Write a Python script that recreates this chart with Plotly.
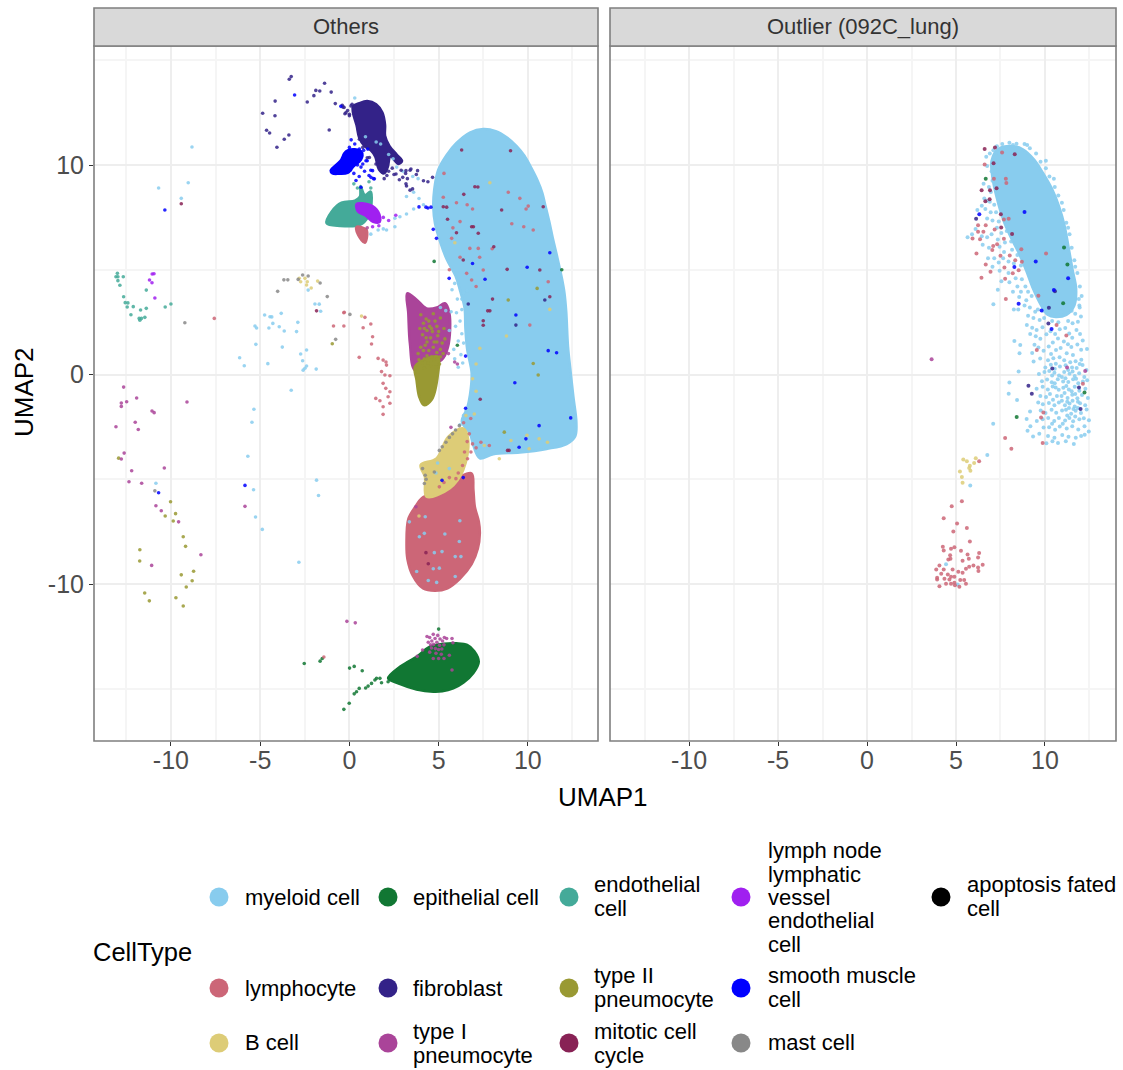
import plotly.graph_objects as go

W, H = 1123, 1070
COLORS = {
    "myeloid": "#88CCEE", "epithelial": "#117733", "endothelial": "#44AA99", "lymphatic": "#A020F0",
    "apoptosis": "#000000", "lymphocyte": "#CC6677", "fibroblast": "#332288", "type2": "#999933",
    "smooth": "#0000FF", "bcell": "#DDCC77", "type1": "#AA4499", "mitotic": "#882255", "mast": "#888888",
}

# ---------- left panel: dense regions (outlines, data units) ----------
REGION_MYELOID = [(7.5,11.72),(8.2,11.62),(8.85,11.3),(9.37,10.9),(9.8,10.45),(10.2,9.85),(10.55,9.25),(10.8,8.7),(11.0,8.0),(11.2,7.3),(11.4,6.5),(11.65,5.6),(11.89,4.67),
    (12.05,3.9),(12.15,3.0),(12.25,1.33),(12.4,0.1),(12.55,-1.06),(12.72,-2.3),(12.65,-2.95),(12.17,-3.32),(11.05,-3.55),(9.55,-3.72),(8.06,-3.8),
    (7.31,-4.0),(6.95,-3.4),(6.75,-2.81),(6.3,-2.25),(6.6,-1.6),(6.75,-1.0),(6.85,0.06),(6.6,1.2),(6.5,2.2),(6.45,3.2),(6.2,4.0),(5.95,4.7),(5.45,5.5),(5.1,6.3),(4.8,7.2),(4.7,8.01),(4.75,8.8),
    (4.97,9.75),(5.45,10.48),(6.0,11.05),(6.75,11.55)]
REGION_FIBROBLAST = [(0.55,12.95),(1.0,13.05),(1.5,12.9),(1.85,12.5),(2.0,11.9),(2.0,11.4),(2.25,10.9),(2.65,10.5),(2.95,10.2),(2.75,10.05),(2.3,10.4),(2.15,9.9),(1.95,9.6),
    (1.65,9.8),(1.45,10.4),(1.2,10.7),(0.85,10.9),(0.55,11.3),(0.4,11.9),(0.2,12.5),(0.2,12.8)]
REGION_SMOOTH = [(-1.05,9.73),(-0.5,10.2),(-0.2,10.65),(0.3,10.75),(0.7,10.6),(0.65,10.25),(0.25,9.95),(-0.1,9.62),(-0.6,9.58),(-0.95,9.6)]
REGION_ENDOTHELIAL = [(-1.28,7.22),(-1.0,7.77),(-0.44,8.2),(0.31,8.3),(0.59,8.49),(0.62,9.0),(0.87,8.57),(1.19,8.73),
    (1.24,8.17),(1.05,7.53),(0.59,7.14),(-0.53,7.09)]
REGION_LYMPHATIC = [(0.4,8.14),(1.15,8.09),(1.61,7.77),(1.71,7.29),(1.33,7.29),(0.87,7.61),(0.49,7.77)]
REGION_LYMPH_TAIL = [(0.4,7.05),(0.96,6.9),(0.87,6.29),(0.49,6.66)]
REGION_TYPE1 = [(3.24,3.88),(3.8,3.55),(4.32,3.16),(4.9,3.2),(5.35,3.4),(5.6,2.95),(5.53,1.33),(5.16,0.69),(4.4,0.45),(3.67,0.21),(3.39,1.49),(3.3,2.92)]
REGION_TYPE2 = [(3.67,0.37),(4.3,0.75),(4.97,0.85),(4.97,0.06),(4.6,-1.22),(4.17,-1.46),(3.91,-1.06),(3.76,-0.26)]
REGION_LYMPHOCYTE = [(6.85,-4.72),(6.95,-5.5),(7.03,-6.31),(7.25,-7.0),(7.31,-7.58),(7.2,-8.3),(6.85,-9.05),(6.19,-9.75),(5.5,-10.2),(4.8,-10.32),(4.13,-10.21),(3.55,-9.6),
    (3.25,-8.8),(3.2,-8.06),(3.3,-6.9),(3.7,-6.3),(4.04,-5.91),(5.26,-5.43),(6.19,-4.88)]
REGION_BCELL = [(6.38,-2.57),(6.66,-3.13),(6.38,-4.56),(5.63,-5.43),(4.32,-5.83),(4.23,-4.88),(3.99,-4.32),(4.88,-4.0),(5.53,-2.97)]
REGION_EPITHELIAL = [(2.17,-14.5),(2.83,-13.95),(3.3,-13.7),(3.76,-13.47),(4.51,-12.99),(5.3,-12.85),(6.0,-12.83),(6.6,-12.9),(7.0,-13.2),(7.25,-13.71),(6.95,-14.25),(6.4,-14.7),
    (5.82,-14.98),(5.2,-15.12),(4.7,-15.14),(3.76,-15.03),(2.73,-14.74)]

# ---------- left panel: single cells ----------
L_FIBROBLAST = [(-3.37,14.09),(-3.26,14.22),(-1.39,13.9),(-1.88,13.56),(-1.66,13.53),(-1.02,13.48),(-1.99,13.31),(-2.36,13.01),
    (-4.16,13.05),(-0.79,12.93),(-4.86,12.47),(-4.17,12.35),(-4.64,11.66),(-4.47,11.53),(-3.39,11.43),(-3.65,11.23),(-4.06,10.85),
    (-1.13,11.67),(-0.3,12.75),(-0.1,12.6),(0.0,12.35),(-0.25,12.45),(0.15,12.9),(-0.4,12.85),(0.0,12.42),(-0.19,12.5),(0.09,12.82),(-0.37,12.77),
    (2.9,9.75),(3.15,9.6),(3.4,9.75),(3.75,9.55),(4.15,9.25),(4.4,9.2),(2.5,9.55),(2.8,9.3),(3.2,9.0),(3.4,8.8),(2.2,9.7),(10.95,3.56),(6.66,3.37),(9.33,2.36),
    (1.0,10.35),(1.6,10.15),(0.9,11.1),(0.56,11.23),(0.75,10.84),(1.12,10.36),(1.49,10.05),(1.87,9.65),(2.61,9.57),(2.99,9.41),(3.17,9.73),(3.45,9.81),(3.17,9.1),(3.54,8.86),(4.66,9.41),(3.82,9.73),
    (3.25,9.35),(2.4,9.85),(2.1,9.5),(1.95,9.35)]
L_SMOOTH = [(-3.07,13.34),(-0.48,12.8),(-10.34,7.85),(-10.69,-5.64),(-5.85,-5.29),(9.96,5.12),(5.59,4.59),(11.23,5.81),(11.61,1.04),
    (11.14,1.14),(9.33,2.84),(4.7,6.93),(4.88,6.5),(6.51,0.88),(6.51,-1.61),(9.27,-0.39),(6.38,-4.92),(5.19,-5.05),(12.4,-2.07),
    (10.63,-2.44),(9.89,-3.07),(9.51,-3.47),(0.3,11.0),(0.8,10.7),(1.1,9.5),(1.35,9.35),(0.65,9.9),(1.0,10.2),(0.1,11.2),(3.9,8.0),(4.4,7.95),(1.2,9.75),(6.9,5.3),(7.6,4.55),
    (1.03,10.76),(0.56,10.76),(1.21,9.41),(1.3,9.73),(1.4,9.34),(0.93,10.2),(0.47,10.44),(0.28,10.6),(0.0,10.84),(0.75,10.05),(0.0,10.05),(-0.56,9.81),(-0.28,9.97),(0.37,9.26),(0.65,8.94),(4.29,7.99),(4.57,7.99),
    (0.45,10.0),(0.85,9.7),(0.55,9.45),(-0.3,10.45),(0.05,9.75),(0.25,9.6)]
L_ENDOTHELIAL = [(-13.0,4.83),(-13.08,4.67),(-12.97,4.67),(-12.67,4.67),(-12.97,4.48),(-12.86,4.26),(-12.65,3.71),(-12.56,3.43),
    (-12.41,3.42),(-12.11,3.24),(-12.45,3.22),(-11.7,3.08),(-11.38,3.16),(-12.24,2.85),(-11.78,2.68),(-11.65,2.68),(-11.46,2.73),
    (-11.74,2.59),(-11.38,4.03),(-10.32,3.22),(-10.0,3.37),(0.25,9.1),(0.45,8.9),(1.1,9.2),(1.2,8.9)]
L_LYMPHATIC = [(-11.05,4.8),(-10.95,4.81),(-11.2,4.51),(-11.06,4.38),(-10.9,3.65),(1.9,7.5),(2.2,7.35),(2.6,7.6),(1.65,7.1),(1.3,7.05)]
L_MYELOID = [(-8.82,10.86),(-9.03,9.15),(-10.69,8.9),(-9.42,8.41),(-2.31,4.03),(-1.93,3.37),(-1.69,3.36),(-1.61,3.02),(-4.75,2.84),
    (-4.45,2.76),(-4.35,2.75),(-3.82,2.92),(-2.89,2.49),(-5.29,2.32),(-5.2,2.22),(-4.51,2.22),(-4.29,2.44),(-3.93,2.28),(-3.65,2.08),
    (-2.96,2.05),(-5.24,1.44),(-3.76,1.31),(-2.73,0.98),(-2.4,1.17),(-2.62,0.66),(-6.15,0.8),(-5.89,0.42),(-4.57,0.52),(-2.4,0.41),
    (-2.49,0.3),(-2.59,0.21),(-1.86,0.26),(-3.26,-0.75),(-5.35,-1.66),(-5.46,-2.28),(-5.69,-3.9),(-10.84,-5.19),(-1.84,-5.04),
    (-5.37,-5.5),(-1.73,-5.77),(-5.26,-6.8),(-4.88,-7.39),(-2.83,-8.96),
    (4.25,-6.79),(3.36,-7.03),(4.2,-7.58),(5.35,-7.61),(6.19,-6.98),(6.16,-7.97),(5.19,-8.45),(5.93,-8.69),(6.25,-8.69),(4.7,-9.27),
    (5.04,-9.24),(3.77,-9.4),(4.42,-9.83),(4.89,-9.92),(5.93,-9.64),(4.76,-8.5),(3.92,-7.74),(4.94,-4.22),(5.6,-4.49),(4.85,-4.7),
    (0.3,13.2),(0.9,11.35),(1.5,11.1),(1.75,11.0),(2.2,10.5),(2.45,10.3),(2.65,9.9),(3.0,9.7),(3.55,9.45),(3.85,9.35),(3.6,8.7),(3.9,8.4),(4.15,8.1),(3.2,8.5),
    (1.61,6.9),(2.08,6.9),(2.55,7.05),(2.83,7.53),(3.2,7.66),(2.55,7.46),(3.6,7.9),(1.2,6.7),(1.9,6.95),
    (5.1,3.2),(5.4,3.05),(5.7,3.0),(6.0,2.95),(6.2,2.55),(5.95,2.3),(6.3,1.95),(6.1,1.6),(6.4,1.5),(5.85,1.2),(6.25,0.95),(5.9,0.75),(6.35,0.55),(6.1,0.35),(5.6,2.1),
    (6.4,3.9),(6.6,4.0),(6.3,3.6),(6.55,-1.7),(6.4,-1.95),(6.2,-2.4),(5.9,4.35),(6.05,3.6),(5.75,4.05),(6.3,3.1)]
L_LYMPHOCYTE = [(-7.57,2.68),(-0.31,2.95),(-0.89,2.32),(-0.31,2.32),(1.61,0.77),(1.89,0.69),(2.08,0.45),(1.8,0.14),(1.99,-0.02),
    (2.27,-0.06),(1.89,-0.42),(2.04,-0.66),(2.27,-0.82),(2.17,-1.06),(2.27,-1.37),(1.89,-1.54),(1.48,-1.14),(1.71,-1.25),(1.89,-1.9),
    (-0.29,2.97),(0.87,2.73),(0.77,2.23),(1.2,2.41),(1.3,1.8),(1.24,1.46),(0.55,0.82),(-1.43,-13.48),(2.05,0.6),
    (5.26,8.46),(9.55,8.41),(10.02,8.04),(9.77,7.05),(7.22,6.02),(6.75,6.02),(5.73,6.5),(7.5,4.99),(6.85,4.51),(11.14,4.43),(10.11,2.36),
    (6.57,4.83),(9.9,7.9),(10.3,6.9),(5.3,9.6),(6.0,8.2),(6.6,8.1),(6.9,7.9),(6.2,7.3),(5.8,7.0),(8.0,6.0),(7.3,5.6),(6.2,5.6),(5.6,5.0),(7.1,4.2),(9.1,7.2),(8.9,8.7),
    (6.72,-2.83),(6.9,-3.31),(6.81,-3.7),(6.62,-4.02),(6.34,-4.34),(7.37,-3.23),(7.84,-3.39),(5.97,-4.97),(5.6,-4.92),(5.04,-5.36),(6.6,-3.2),(6.45,-3.7),(7.1,-3.5),(6.1,-4.7),(5.3,-5.15),(6.4,-2.3),(6.8,-2.1)]
L_TYPE2 = [(-0.96,1.47),(-12.93,-3.99),(-10.02,-6.07),(-9.74,-6.64),(-10.32,-6.75),(-9.87,-6.99),(-9.31,-7.74),(-9.18,-8.2),(-11.74,-8.36),
    (-11.75,-8.9),(-8.73,-9.39),(-9.42,-9.56),(-8.81,-9.84),(-9.14,-10.14),(-11.47,-10.43),(-11.21,-10.8),(-9.72,-10.65),(-9.31,-11.05),
    (10.52,4.11),(8.9,3.56),(10.58,-0.02),(10.3,0.53),(8.68,-2.75),
    (4.0,2.85),(4.3,2.65),(4.7,2.9),(5.1,2.7),(4.5,2.3),(4.9,2.3),(5.3,2.2),(4.1,1.9),(4.55,1.75),(4.95,1.85),(5.35,1.7),(4.25,1.4),(4.7,1.3),(5.1,1.2),(3.85,1.0),(4.35,0.9),(4.75,0.7),(5.05,0.5),(4.05,0.55),(3.95,2.2),(4.65,2.05),(4.35,2.1),(4.15,1.15),(4.55,0.4),(5.25,1.0),
    (4.15,2.45),(4.45,2.55),(4.8,2.55),(5.0,2.05),(4.3,1.75),(4.75,1.55),(5.2,1.5),(4.0,1.3),(4.45,1.15),(4.9,1.05),(4.2,0.75),(4.6,0.85),(3.9,0.7),(4.85,0.35),(4.4,0.55),(4.2,0.3),(3.8,0.45),(5.1,0.85),(4.9,1.55),(4.6,2.2),(4.2,2.2),(4.35,1.55)]
L_TYPE1 = [(-12.65,-0.6),(-11.92,-1.12),(-12.78,-1.36),(-12.48,-1.3),(-12.78,-1.52),(-11.06,-1.74),(-10.94,-1.82),(-9.1,-1.31),(-12.0,-2.28),
    (-13.08,-2.49),(-11.83,-2.62),(-12.62,-3.75),(-12.78,-4.03),(-12.2,-4.59),(-10.37,-4.46),(-12.35,-5.12),(-11.64,-5.19),(-10.84,-6.26),
    (-10.54,-6.5),(-9.57,-7.03),(-8.32,-8.6),(-11.08,-9.11),(-5.85,-6.29),(-0.14,-11.78),(0.33,-11.85),(5.69,-2.52),(3.73,-6.31),
    (4.35,-12.5),(5.3,-12.9),(4.1,-13.15),(3.8,-13.45),(5.8,-12.8),(5.6,-13.4),(5.75,-14.1),(5.75,-12.6),(5.55,1.0),(5.9,0.6),(6.05,0.5),(1.0,7.0),
    (4.7,-12.4),(5.45,-12.6),(4.5,-13.25),(4.85,-13.3),(5.15,-13.35),(5.3,-13.55),(4.7,-13.55),(5.0,-13.55),
    (4.5,-12.55),(4.62,-12.72),(4.8,-12.6),(4.95,-12.45),(5.08,-12.62),(5.22,-12.72),(4.42,-12.78),(4.72,-12.88),(4.9,-12.78),(5.05,-12.92),(4.6,-13.05),(4.82,-13.08),(5.0,-13.12),(5.18,-13.1),(5.32,-12.55),(4.55,-12.9)]
L_BCELL = [(-2.81,4.59),(-2.49,4.59),(-2.73,4.43),(-2.36,4.43),(-2.4,4.27),(-2.14,4.13),(-1.78,4.46),(0.68,2.79),
    (8.8,1.84),(11.23,3.11),(7.31,1.25),(7.87,9.15),(5.91,6.29),(8.4,-4.02),(9.05,-3.15),(10.07,-3.54),(11.1,-3.23),(10.63,-3.07),
    (7.56,-3.39),(7.0,-1.88),(6.53,-1.96),(7.1,0.5),(6.9,-0.2),(7.1,-0.8),(9.95,-2.9),(3.9,-6.75)]
L_MITOTIC = [(-9.42,8.15),(-1.84,3.04),(6.29,10.72),(9.03,10.68),(7.03,8.96),(6.41,8.6),(5.26,8.01),(5.45,7.99),(8.53,7.85),(10.86,8.01),(5.5,7.41),
    (6.85,7.05),(7.22,6.74),(6.0,6.77),(8.09,6.1),(6.38,5.47),(8.84,5.02),(10.67,4.99),(8.02,3.6),(11.23,3.71),(7.87,3.04),(7.5,2.57),
    (7.33,-1.18),(4.42,-9.03),(4.29,-8.5),(8.86,-3.62),(8.95,-3.62),(7.2,8.95),(6.95,7.05),(7.75,3.04),(7.5,2.35)]
L_MAST = [(-9.22,2.47),(-4.02,3.97),(-3.67,4.52),(-1.24,3.72),(-2.87,4.54),(-2.62,4.75),(-2.31,4.7),(-1.64,4.37),(-0.77,1.68),(-10.9,-5.55),(0.03,2.87),
    (4.2,-5.2),(4.25,-4.81),(4.76,-4.65),(5.04,-3.62),(5.41,-3.23),(5.78,-2.83),(6.16,-2.44),(4.1,-4.49),(5.2,-3.45),(5.6,-3.0),(5.95,-2.65),(4.3,-5.0),(-3.45,4.52)]
L_EPITHELIAL = [(-2.53,-13.79),(-1.64,-13.68),(-1.52,-13.55),(0.01,-14.01),(0.27,-13.93),(0.72,-14.14),(1.71,-14.5),(1.52,-14.5),(1.43,-14.58),
    (1.8,-14.71),(2.17,-14.66),(1.24,-14.74),(1.05,-14.87),(0.91,-14.96),(0.55,-14.98),(0.4,-15.14),(0.27,-15.24),(-0.01,-15.69),(-0.31,-15.98),
    (5.0,-12.15),(6.05,1.4),(4.75,5.4),(11.9,5.0)]

# ---------- right panel: dense region and single cells ----------
REGION_R_MYELOID = [(7.35,10.75),(8.2,10.9),(8.75,10.75),(9.4,10.25),(9.9,9.6),(10.4,8.85),(10.8,8.0),(11.1,7.1),(11.3,6.2),(11.55,5.0),(11.75,4.1),(11.65,3.3),(11.2,2.85),(10.6,2.75),(10.15,2.85),(9.75,3.35),
    (9.3,4.15),(8.95,4.95),(8.5,5.85),(8.05,6.6),(7.65,7.4),(7.3,8.4),(7.05,9.4),(7.0,10.2)]
R_MYELOID = [(5.80,-5.30),(6.76,-3.84),(7.09,-2.35),(4.44,-9.06),(5.09,-10.02),(8.52,0.14),(8.0,-0.38),(7.96,-0.92),(8.43,-1.21),(8.57,1.02),(8.61,1.41),(8.28,1.6),
    (7.33,9.94),(7.78,9.59),(7.22,9.03),(6.96,8.71),(6.59,8.40),(6.74,8.29),(7.0,9.7),(6.7,10.4),(6.9,10.55),(7.1,10.7),(7.3,10.9),(6.75,9.95),(6.85,8.95),(6.55,9.1),(7.05,9.25),
    (6.45,8.05),(6.2,7.85),(6.65,7.9),(6.95,7.75),(6.9,8.25),(7.15,8.1),(7.25,7.75),(6.75,7.45),(7.05,7.35),(7.4,7.3),(6.1,6.95),(5.65,6.55),(5.9,6.7),(6.45,6.6),(6.75,6.55),(7.0,6.7),
    (7.3,7.0),(7.55,6.75),(7.85,6.85),(7.35,6.45),(7.75,6.3),(8.1,6.35),(6.5,6.2),(6.85,6.05),(7.45,6.1),(7.7,5.85),(8.15,5.95),(8.45,5.7),(6.8,5.55),(7.15,5.55),(7.4,5.35),(7.65,5.55),
    (7.95,5.4),(8.25,5.3),(8.65,5.2),(7.05,5.15),(7.45,4.95),(7.95,4.85),(8.35,4.6),(8.7,4.55),(7.55,4.45),(8.0,4.4),(8.45,4.2),(8.9,4.2),(8.2,3.95),(8.65,3.95),(9.05,3.95),(7.35,4.05),(7.1,3.35),
    (8.55,3.7),(8.95,3.55),(9.25,3.75),(8.25,3.1),(8.5,3.1),(8.85,3.3),(9.15,3.2),(9.45,3.0),(9.05,2.8),(9.35,2.7),(9.7,2.6),
    (7.6,11.0),(8.0,11.06),(8.4,11.02),(8.85,11.0),(9.15,10.8),(9.5,10.55),(9.75,10.15),(10.05,9.85),(10.25,9.45),(10.55,8.95),(10.75,8.55),(11.05,7.85),(11.2,7.25),(11.38,6.7),(11.5,6.05),(11.65,5.45),(11.82,4.85),(11.96,4.2),(12.06,3.75),(11.93,3.3),
    (10.05,10.2),(10.5,9.35),(10.95,8.2),(11.3,7.0),(11.7,5.15),(11.9,3.6),(9.0,10.95),(8.2,10.95),(7.45,10.55),
    (11.95,3.2),(11.7,2.9),(11.85,2.52),(12.02,2.77),(11.55,2.45),(11.77,2.12),(11.97,1.93),(11.53,1.75),(12.12,1.62),(11.82,1.43),(11.48,1.31),(12.36,1.22),(12.03,1.18),
    (8.98,2.37),(9.28,2.23),(9.53,2.12),(9.86,2.26),(9.17,1.94),(9.48,1.83),(9.74,1.71),(10.08,1.92),(10.31,2.07),(10.57,1.93),(10.83,2.16),(11.14,2.22),(11.36,1.96),(10.73,1.72),(11.06,1.58),(11.29,1.44),(10.44,1.53),(10.21,1.34),
    (9.41,1.42),(9.63,1.29),(9.92,1.13),(10.34,0.98),(10.62,1.17),(10.88,1.27),(11.22,1.02),(11.57,0.93),(9.28,1.03),(9.73,0.77),(9.36,0.62),(10.17,0.68),(10.47,0.78),(10.82,0.83),(11.08,0.68),(11.42,0.59),(11.72,0.63),(12.04,0.71),
    (10.02,0.33),(10.33,0.47),(10.61,0.52),(10.84,0.38),(11.16,0.44),(11.52,0.33),(11.78,0.31),(12.11,0.46),(12.33,0.22),(10.55,0.28),(11.3,0.22),(11.95,0.5),
    (9.66,0.03),(9.97,0.12),(10.24,0.17),(10.53,0.08),(10.79,-0.04),(11.08,0.12),(11.38,0.04),(11.67,-0.07),(11.92,0.06),(12.21,-0.12),(10.4,-0.05),(10.95,-0.12),(11.55,0.15),
    (9.83,-0.32),(10.12,-0.24),(10.38,-0.37),(10.72,-0.22),(11.02,-0.33),(11.31,-0.36),(11.58,-0.22),(11.87,-0.42),(12.13,-0.33),(12.37,-0.27),(10.55,-0.42),(11.15,-0.18),(11.75,-0.2),
    (9.53,-0.68),(9.87,-0.58),(10.16,-0.72),(10.43,-0.57),(10.77,-0.73),(11.03,-0.63),(11.34,-0.72),(11.67,-0.58),(11.93,-0.77),(12.27,-0.68),(10.6,-0.62),(11.2,-0.55),(11.5,-0.8),
    (9.74,-1.02),(10.06,-1.07),(10.28,-0.93),(10.67,-1.03),(10.93,-1.02),(11.27,-1.12),(11.53,-0.97),(11.82,-1.13),(12.08,-0.98),(12.41,-1.12),(10.45,-1.2),(11.1,-0.88),(11.7,-0.93),
    (9.62,-1.33),(9.88,-1.42),(10.22,-1.36),(10.53,-1.47),(10.78,-1.33),(11.12,-1.46),(11.38,-1.38),(11.67,-1.52),(11.97,-1.37),(12.26,-1.47),(10.95,-1.25),(11.55,-1.25),(11.85,-1.3),(11.25,-1.3),
    (9.16,-1.77),(9.76,-1.72),(10.03,-1.83),(10.37,-1.68),(10.63,-1.82),(10.96,-1.72),(11.18,-1.68),(11.47,-1.87),(11.72,-1.73),(12.02,-1.83),(12.34,-1.67),(11.35,-1.6),(11.6,-1.65),(11.85,-1.6),
    (8.97,-2.12),(9.54,-2.22),(9.87,-2.13),(10.18,-2.08),(10.52,-2.22),(10.78,-2.07),(11.13,-2.19),(11.37,-2.08),(11.58,-2.23),(11.93,-2.13),(12.18,-2.09),(12.47,-2.18),(11.25,-1.95),(11.7,-2.0),
    (9.18,-2.47),(9.02,-2.68),(9.92,-2.53),(10.23,-2.52),(10.57,-2.63),(10.83,-2.48),(11.22,-2.58),(11.53,-2.47),(11.87,-2.62),(12.22,-2.47),(12.46,-2.72),(12.23,-2.87),(10.4,-2.35),(11.0,-2.35),
    (9.33,-2.96),(9.68,-2.83),(10.17,-2.93),(10.53,-3.02),(10.97,-2.88),(11.32,-2.97),(11.73,-3.02),(12.03,-2.93),(10.42,-3.18),(10.73,-3.27),(11.17,-3.18),(11.62,-3.32),(10.08,-3.28),
    (10.9,3.0),(10.4,2.55),(9.95,2.7),(10.75,2.5),(11.3,2.55),(9.6,3.1),(9.9,3.05),(11.5,3.05)]
R_LYMPHOCYTE = [(6.30,-4.14),(7.76,-3.03),(8.11,-3.54),(9.87,-3.27),(9.78,-2.05),(9.91,-1.81),(5.33,-6.05),(4.76,-6.29),(4.31,-6.86),(5.06,-7.11),(5.61,-7.32),(4.85,-7.49),
    (5.78,-7.97),(4.26,-8.22),(4.31,-8.4),(4.72,-8.32),(4.91,-8.24),(5.28,-8.41),(6.3,-8.52),(5.65,-8.59),(4.67,-8.63),(6.24,-8.73),(4.57,-8.83),(4.69,-8.79),(5.72,-8.79),(5.37,-8.89),
    (6.5,-9.08),(5.98,-9.11),(5.74,-9.17),(5.56,-9.27),(6.24,-9.21),(6.26,-9.38),(4.07,-9.11),(3.89,-9.3),(4.31,-9.3),(4.81,-9.3),(5.13,-9.41),(5.37,-9.46),(4.17,-9.51),(4.54,-9.54),
    (4.72,-9.65),(3.94,-9.7),(3.94,-9.78),(4.35,-9.75),(4.63,-9.78),(4.91,-9.65),(5.24,-9.81),(5.46,-9.81),(5.56,-9.98),(4.72,-9.98),(4.91,-9.94),(4.44,-9.98),(4.07,-10.1),(5.19,-10.13),(4.94,-10.06),
    (9.54,1.17),(12.13,-0.44),(7.13,9.35),(7.8,9.35),(7.83,9.14),(6.24,7.13),(6.67,7.13),(6.24,6.81),(6.35,6.46),(5.93,6.49),(6.54,6.81),(7.17,6.92),(7.69,6.48),(7.09,6.13),(7.31,6.22),(7.04,5.94),
    (6.15,5.78),(7.5,5.67),(8.02,5.68),(8.33,5.46),(8.67,5.98),(8.7,5.38),(6.67,5.25),(6.94,4.9),(6.43,4.62),(7.72,5.11),(8.19,4.83),(8.52,4.98),(7.76,4.57),(7.8,3.6),(9.63,3.76),(10.06,5.78),
    (7.69,7.4),(7.96,7.44),(6.61,10.02),(7.59,10.6),(10.65,2.37),(11.2,1.86)]
R_BCELL = [(5.41,-4.06),(5.61,-4.14),(6.11,-4.0),(6.02,-4.22),(5.78,-4.35),(5.74,-4.46),(5.81,-4.59),(5.22,-4.63),(5.33,-4.89),(5.37,-5.16)]
R_MITOTIC = [(6.61,10.76),(7.19,10.83),(8.30,10.51),(7.11,10.08),(6.44,8.79),(6.91,8.79),(7.28,8.89),(6.65,8.27),(6.89,8.37),(7.52,7.65),(7.54,7.02),(8.15,6.71)]
R_SMOOTH = [(6.31,7.65),(8.28,5.13),(9.48,5.4),(8.52,3.38),(10.5,4.03),(11.3,4.59),(10.37,2.17),(9.81,3.06),(8.85,7.76)]
R_FIBROBLAST = [(6.13,7.43),(10.22,3.19),(10.19,2.44),(10.56,3.97),(9.07,-0.54),(9.26,-0.92),(11.91,-0.62),(12.0,-1.65),(10.41,0.29)]
R_TYPE1 = [(3.63,0.73),(11.24,0.33),(12.26,0.17)]
R_EPITHELIAL = [(6.67,9.35),(11.07,6.06),(11.26,5.25),(11.02,3.4),(8.41,-2.03),(12.22,-0.86)]

# ---------- ticks and text ----------
X_TICKS = [-10, -5, 0, 5, 10]
X_TICK_TEXT = ["-10", "-5", "0", "5", "10"]
X_MINOR = [-12.5, -7.5, -2.5, 2.5, 7.5, 12.5]
Y_TICKS = [-10, 0, 10]
Y_TICK_TEXT = ["-10", "0", "10"]
Y_MINOR = [-15, -5, 5, 15]
STRIPS = ["Others", "Outlier (092C_lung)"]
LEGEND_TITLE = "CellType"
LEGEND = [
    ("myeloid", ["myeloid cell"], 219, 897, 245, [898]),
    ("epithelial", ["epithelial cell"], 388, 897, 413, [898]),
    ("endothelial", ["endothelial", "cell"], 569, 897, 594, [885, 909]),
    ("lymphatic", ["lymph node", "lymphatic", "vessel", "endothelial", "cell"], 741, 897, 768, [851, 875, 898, 921, 945]),
    ("apoptosis", ["apoptosis fated", "cell"], 941, 897, 967, [885, 909]),
    ("lymphocyte", ["lymphocyte"], 219, 988, 245, [989]),
    ("fibroblast", ["fibroblast"], 388, 988, 413, [989]),
    ("type2", ["type II", "pneumocyte"], 569, 988, 594, [976, 1000]),
    ("smooth", ["smooth muscle", "cell"], 741, 988, 768, [976, 1000]),
    ("bcell", ["B cell"], 219, 1043, 245, [1043]),
    ("type1", ["type I", "pneumocyte"], 388, 1043, 413, [1032, 1056]),
    ("mitotic", ["mitotic cell", "cycle"], 569, 1043, 594, [1032, 1056]),
    ("mast", ["mast cell"], 741, 1043, 768, [1043]),
]

FONT = "Liberation Sans"
fig = go.Figure()

def region(pts, key, xa="x", ya="y"):
    xs = [p[0] for p in pts] + [pts[0][0]]
    ys = [p[1] for p in pts] + [pts[0][1]]
    fig.add_trace(go.Scatter(x=xs, y=ys, mode="lines", fill="toself", fillcolor=COLORS[key],
                             line=dict(color=COLORS[key], width=2.5, shape="spline", smoothing=1.0),
                             hoverinfo="skip", showlegend=False, xaxis=xa, yaxis=ya))

def cells(pts, key, xa="x", ya="y", size=3.6, opacity=0.85):
    fig.add_trace(go.Scatter(x=[p[0] for p in pts], y=[p[1] for p in pts], mode="markers",
                             marker=dict(color=COLORS[key], size=size, opacity=opacity, line=dict(width=0)),
                             name=key, showlegend=False, xaxis=xa, yaxis=ya))

for pts, key in [(REGION_MYELOID, "myeloid"), (REGION_LYMPHOCYTE, "lymphocyte"), (REGION_BCELL, "bcell"),
                 (REGION_TYPE1, "type1"), (REGION_TYPE2, "type2"), (REGION_EPITHELIAL, "epithelial"),
                 (REGION_ENDOTHELIAL, "endothelial"), (REGION_LYMPH_TAIL, "lymphocyte"), (REGION_LYMPHATIC, "lymphatic"),
                 (REGION_SMOOTH, "smooth"), (REGION_FIBROBLAST, "fibroblast")]:
    region(pts, key)
for pts, key in [(L_MYELOID, "myeloid"), (L_EPITHELIAL, "epithelial"), (L_ENDOTHELIAL, "endothelial"), (L_LYMPHATIC, "lymphatic"),
                 (L_LYMPHOCYTE, "lymphocyte"), (L_BCELL, "bcell"), (L_TYPE2, "type2"), (L_TYPE1, "type1"), (L_MAST, "mast"),
                 (L_FIBROBLAST, "fibroblast"), (L_SMOOTH, "smooth"), (L_MITOTIC, "mitotic")]:
    cells(pts, key)

region(REGION_R_MYELOID, "myeloid", "x2", "y2")
for pts, key in [(R_MYELOID, "myeloid"), (R_LYMPHOCYTE, "lymphocyte"), (R_BCELL, "bcell"), (R_EPITHELIAL, "epithelial"),
                 (R_TYPE1, "type1"), (R_FIBROBLAST, "fibroblast"), (R_SMOOTH, "smooth"), (R_MITOTIC, "mitotic")]:
    cells(pts, key, "x2", "y2", size=4, opacity=0.85)

px = lambda v: v / W
py = lambda v: 1 - v / H
P1 = (94, 598); P2 = (610, 1116); PT, PB = 46, 741; ST = 8
GRID, GRID_MINOR = "#EEEEEE", "#F5F5F5"

def xaxis(dom, rng):
    return dict(domain=[px(dom[0]), px(dom[1])], range=rng, tickmode="array", tickvals=X_TICKS, ticktext=X_TICK_TEXT,
                ticks="outside", ticklen=4, tickwidth=1.2, tickcolor="#333333", showgrid=True, gridcolor=GRID, gridwidth=2,
                minor=dict(tickmode="array", tickvals=X_MINOR, showgrid=True, gridcolor=GRID_MINOR, gridwidth=1.5, ticks=""),
                tickfont=dict(family=FONT, size=25, color="#4D4D4D"), ticklabelstandoff=-7, showline=False, zeroline=False, fixedrange=True)

xa1 = xaxis(P1, [-14.31, 13.93]); xa1["anchor"] = "y"
xa2 = xaxis(P2, [-14.44, 13.99]); xa2["anchor"] = "y2"
ya_common = dict(domain=[py(PB), py(PT)], range=[-17.49, 15.68], tickmode="array", tickvals=Y_TICKS, ticktext=Y_TICK_TEXT,
                 showgrid=True, gridcolor=GRID, gridwidth=2, zeroline=False, showline=False, fixedrange=True,
                 minor=dict(tickmode="array", tickvals=Y_MINOR, showgrid=True, gridcolor=GRID_MINOR, gridwidth=1.5, ticks=""),
                 tickfont=dict(family=FONT, size=25, color="#4D4D4D"))
ya1 = dict(ya_common, ticks="outside", ticklen=4, tickwidth=1.2, tickcolor="#333333", anchor="x")
ya2 = dict(ya_common, showticklabels=False, ticks="", anchor="x2")

shapes, annos = [], []
for (a, b), label in zip([P1, P2], STRIPS):
    shapes.append(dict(type="rect", xref="paper", yref="paper", x0=px(a), x1=px(b), y0=py(PB), y1=py(PT),
                       line=dict(color="#7F7F7F", width=1.6), fillcolor="rgba(0,0,0,0)", layer="above"))
    shapes.append(dict(type="rect", xref="paper", yref="paper", x0=px(a), x1=px(b), y0=py(PT), y1=py(ST),
                       line=dict(color="#7F7F7F", width=1.6), fillcolor="#D9D9D9", layer="above"))
    annos.append(dict(xref="paper", yref="paper", x=px((a + b) / 2), y=py(26.5), text=label, showarrow=False,
                      xanchor="center", yanchor="middle", font=dict(family=FONT, size=22, color="#333333")))
annos.append(dict(xref="paper", yref="paper", x=px(603), y=py(797), text="UMAP1", showarrow=False, xanchor="center", yanchor="middle",
                  font=dict(family=FONT, size=26, color="black")))
annos.append(dict(xref="paper", yref="paper", x=px(24), y=py(392), text="UMAP2", showarrow=False, textangle=-90, xanchor="center", yanchor="middle",
                  font=dict(family=FONT, size=26, color="black")))
annos.append(dict(xref="paper", yref="paper", x=px(91), y=py(952), text=LEGEND_TITLE, showarrow=False, xanchor="left", yanchor="middle",
                  font=dict(family=FONT, size=25.5, color="black")))
R = 9.5
for key, lines, kx, ky, tx, ys in LEGEND:
    shapes.append(dict(type="circle", xref="paper", yref="paper", x0=px(kx - R), x1=px(kx + R), y0=py(ky + R), y1=py(ky - R),
                       fillcolor=COLORS[key], line=dict(width=0)))
    for t, y in zip(lines, ys):
        annos.append(dict(xref="paper", yref="paper", x=px(tx), y=py(y - 1), text=t, showarrow=False, xanchor="left", yanchor="middle",
                          font=dict(family=FONT, size=22, color="black"), xshift=-2))

fig.update_layout(width=W, height=H, margin=dict(l=0, r=0, t=0, b=0), paper_bgcolor="white", plot_bgcolor="white",
                  xaxis=xa1, yaxis=ya1, xaxis2=xa2, yaxis2=ya2, shapes=shapes, annotations=annos, showlegend=False)
fig.write_html("out.html", config=dict(displayModeBar=False), post_script="document.body.style.margin='0';")
